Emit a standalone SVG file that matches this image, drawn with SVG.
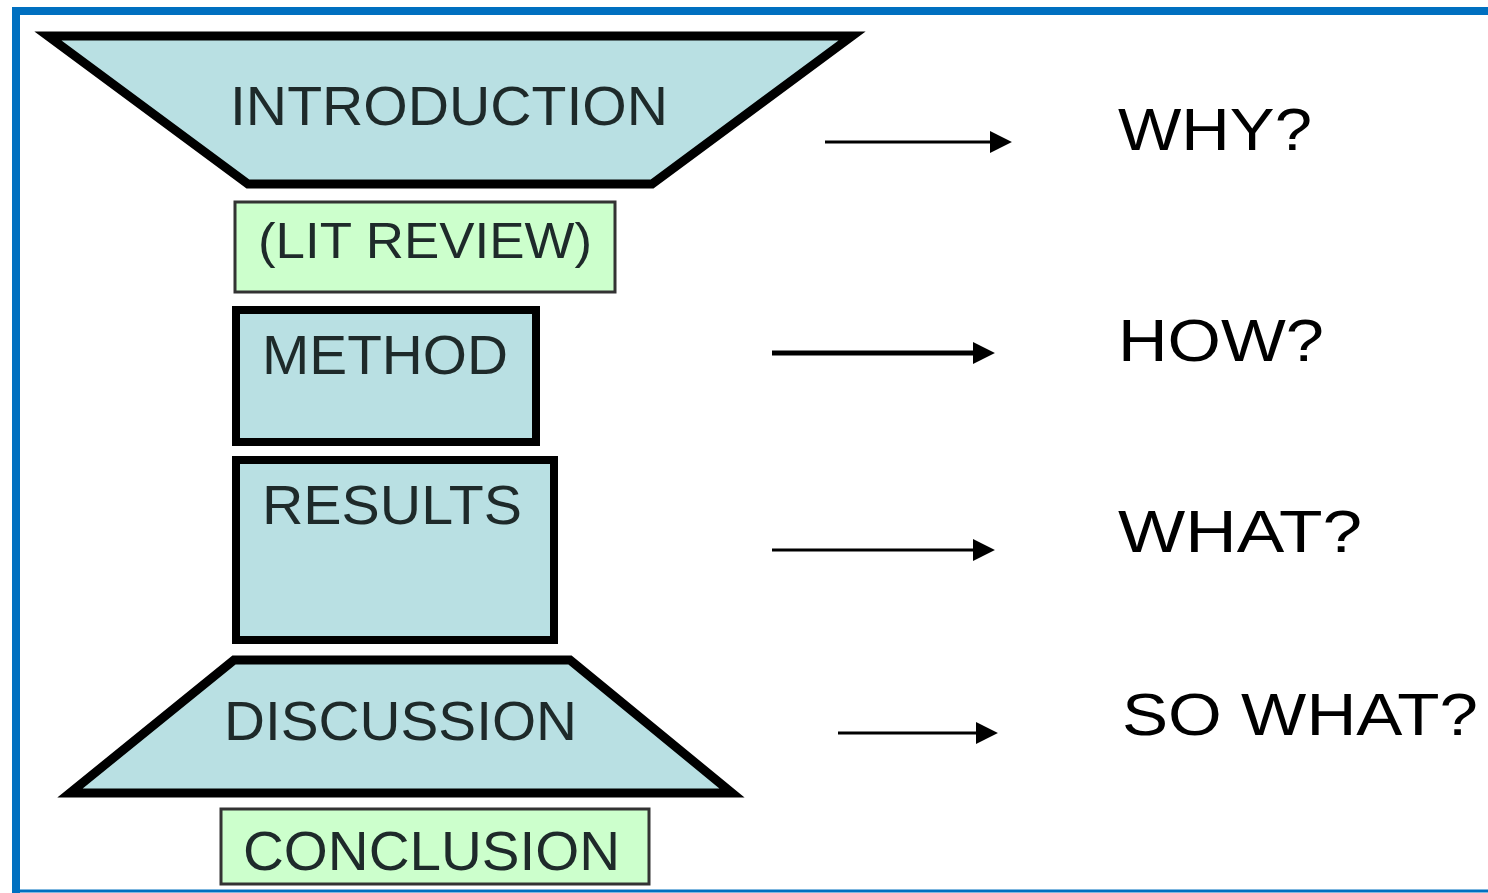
<svg xmlns="http://www.w3.org/2000/svg" width="1488" height="893" viewBox="0 0 1488 893">
<defs>
<style>
.blue{fill:#b9e0e3;stroke:#000;stroke-width:9;stroke-linejoin:miter}
.green{fill:#ccffcc;stroke:#333;stroke-width:3}
.lbl{font-family:"Liberation Sans",Arial,sans-serif;font-size:55px;fill:#1e2a2a}
.q{font-family:"Liberation Sans",Arial,sans-serif;font-size:60px;fill:#000}
.arr{stroke:#000;fill:none}
</style>
<marker id="ah2" viewBox="0 0 10 10" refX="6.4" refY="5" markerWidth="22" markerHeight="22" markerUnits="userSpaceOnUse" orient="auto">
<path d="M0,0 L10,5 L0,10 z" fill="#000"/>
</marker>
</defs>
<rect x="0" y="0" width="1488" height="893" fill="#fff"/>
<path d="M16,893 L16,11 L1488,11" fill="none" stroke="#0070c0" stroke-width="8"/>
<line x1="12" y1="891" x2="1488" y2="891" stroke="#0070c0" stroke-width="3"/>
<g id="introduction">
<polygon class="blue" points="48,36 852,36 652,184 248,184"/>
<text class="lbl" x="230" y="125" textLength="438" lengthAdjust="spacingAndGlyphs">INTRODUCTION</text>
</g>
<g id="litreview">
<rect class="green" x="235" y="202" width="380" height="90"/>
<text class="lbl" x="258" y="258" style="font-size:50px" textLength="334" lengthAdjust="spacingAndGlyphs">(LIT REVIEW)</text>
</g>
<g id="method">
<rect class="blue" x="236" y="310" width="300" height="132" style="stroke-width:8"/>
<text class="lbl" x="262" y="374" textLength="246" lengthAdjust="spacingAndGlyphs">METHOD</text>
</g>
<g id="results">
<rect class="blue" x="236" y="460" width="318" height="180" style="stroke-width:8"/>
<text class="lbl" x="262" y="524" textLength="260" lengthAdjust="spacingAndGlyphs">RESULTS</text>
</g>
<g id="discussion">
<polygon class="blue" points="234,660 570,660 732,793 70,793"/>
<text class="lbl" x="224" y="740" textLength="353" lengthAdjust="spacingAndGlyphs">DISCUSSION</text>
</g>
<g id="conclusion">
<rect class="green" x="221" y="809" width="428" height="75"/>
<text class="lbl" x="243" y="870" textLength="377" lengthAdjust="spacingAndGlyphs">CONCLUSION</text>
</g>
<g id="connectors">
<line class="arr" x1="825" y1="142" x2="1004" y2="142" stroke-width="3" marker-end="url(#ah2)"/>
<line class="arr" x1="772" y1="353" x2="987" y2="353" stroke-width="5" marker-end="url(#ah2)"/>
<line class="arr" x1="772" y1="550" x2="987" y2="550" stroke-width="3" marker-end="url(#ah2)"/>
<line class="arr" x1="838" y1="733" x2="990" y2="733" stroke-width="3" marker-end="url(#ah2)"/>
</g>
<g id="why"><text class="q" x="1118" y="150" textLength="194" lengthAdjust="spacingAndGlyphs">WHY?</text></g>
<g id="how"><text class="q" x="1118" y="361" textLength="206" lengthAdjust="spacingAndGlyphs">HOW?</text></g>
<g id="what"><text class="q" x="1118" y="552" textLength="244" lengthAdjust="spacingAndGlyphs">WHAT?</text></g>
<g id="sowhat"><text class="q" x="1122" y="735" textLength="356" lengthAdjust="spacingAndGlyphs">SO WHAT?</text></g>
</svg>
